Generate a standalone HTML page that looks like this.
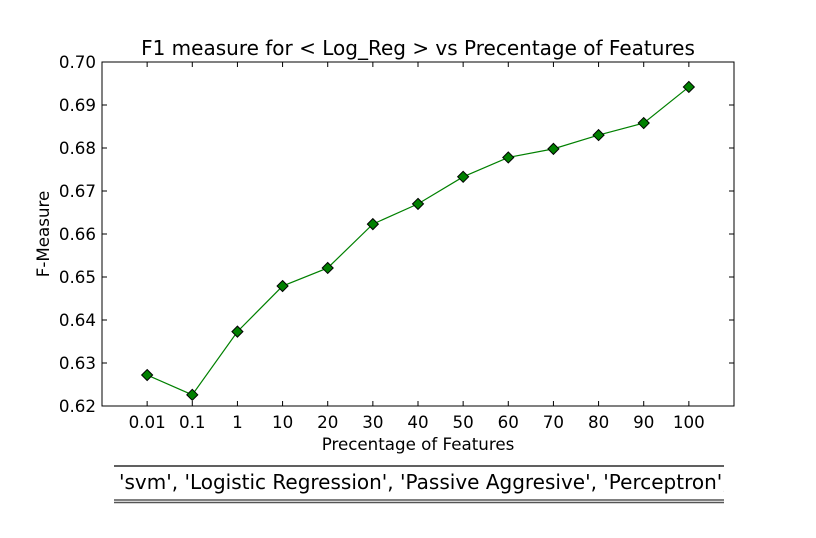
<!DOCTYPE html>
<html><head><meta charset="utf-8"><style>
html,body{margin:0;padding:0;background:#fff;}
svg{display:block;font-family:"DejaVu Sans","Liberation Sans",sans-serif;}
</style></head><body>
<svg id="chart" width="816" height="538" viewBox="0 0 816 538" xmlns="http://www.w3.org/2000/svg">
<rect width="816" height="538" fill="#fff"/>
<text x="418" y="55" font-size="20" text-anchor="middle">F1 measure for &lt; Log_Reg &gt; vs Precentage of Features</text>
<g id="ticks"></g>
<polyline id="series-line" fill="none" stroke="#008000" stroke-width="1.2"/>
<g id="points"></g>
<rect x="102" y="62" width="632" height="344" fill="none" stroke="#000" stroke-width="1"/>
<text x="418" y="450" font-size="16.7" text-anchor="middle">Precentage of Features</text>
<text transform="translate(49,234) rotate(-90)" font-size="16.7" text-anchor="middle">F-Measure</text>
<defs><clipPath id="tc"><rect x="114" y="460" width="610" height="50"/></clipPath></defs>
<g>
<line x1="114" y1="466" x2="724" y2="466" stroke="#000" stroke-width="1.2"/>
<text clip-path="url(#tc)" x="119" y="489" font-size="20">'svm', 'Logistic Regression', 'Passive Aggresive', 'Perceptron', 'SGD'</text>
<line x1="114" y1="500" x2="724" y2="500" stroke="#000" stroke-width="1"/>
<line x1="114" y1="502.5" x2="724" y2="502.5" stroke="#555" stroke-width="1.5"/>
</g>
</svg>
<script>
const categories=["0.01","0.1","1","10","20","30","40","50","60","70","80","90","100"];
const fValues=[0.6272,0.6226,0.6373,0.6479,0.6521,0.6623,0.6670,0.6733,0.6778,0.6798,0.6830,0.6858,0.6942];
const yTicks=[0.62,0.63,0.64,0.65,0.66,0.67,0.68,0.69,0.70];
const NS="http://www.w3.org/2000/svg";
const X0=102,X1=734,Y0=406,Y1=62;
function xs(i){return X0+(i+1)*(X1-X0)/(categories.length+1);}
function ys(v){return Y0-(v-0.62)/(0.70-0.62)*(Y0-Y1);}
const tg=document.getElementById('ticks');
function mk(tag,attrs,parent){const e=document.createElementNS(NS,tag);for(const k in attrs)e.setAttribute(k,attrs[k]);parent.appendChild(e);return e;}
yTicks.forEach(v=>{
  const y=ys(v);
  mk('line',{x1:X0,y1:y,x2:X0+5,y2:y,stroke:'#000'},tg);
  mk('line',{x1:X1,y1:y,x2:X1-5,y2:y,stroke:'#000'},tg);
  const t=mk('text',{x:X0-6,y:y+6,'font-size':16.7,'text-anchor':'end'},tg);
  
  
  t.textContent=v.toFixed(2);
});
categories.forEach((c,i)=>{
  const x=xs(i);
  mk('line',{x1:x,y1:Y0,x2:x,y2:Y0-5,stroke:'#000'},tg);
  mk('line',{x1:x,y1:Y1,x2:x,y2:Y1+5,stroke:'#000'},tg);
  const t=mk('text',{x:x,y:Y0+22,'font-size':16.7,'text-anchor':'middle'},tg);
  
  
  t.textContent=c;
});
document.getElementById('series-line').setAttribute('points',fValues.map((v,i)=>xs(i)+','+ys(v)).join(' '));
const pg=document.getElementById('points');
fValues.forEach((v,i)=>{
  const x=xs(i),y=ys(v),r=5.5;
  const p=mk('polygon',{points:`${x},${y-r} ${x+r},${y} ${x},${y+r} ${x-r},${y}`,fill:'#008000',stroke:'#000','stroke-width':1},pg);
  
  
});
</script>
</body></html>
